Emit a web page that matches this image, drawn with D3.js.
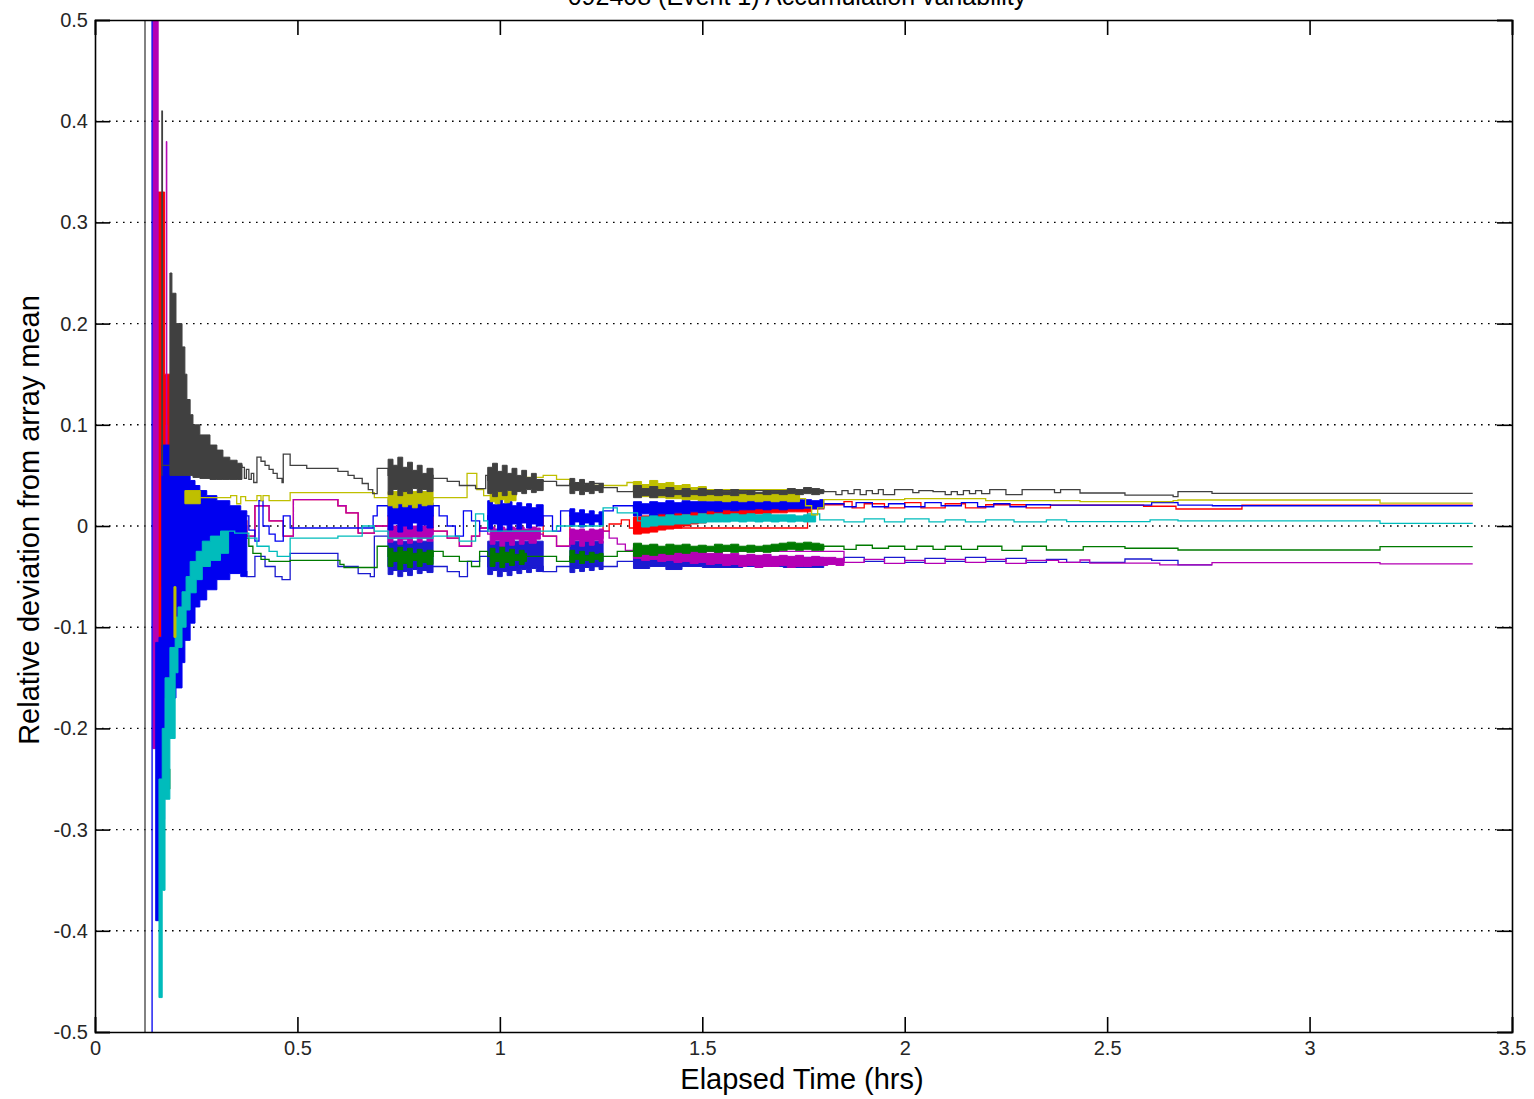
<!DOCTYPE html>
<html>
<head>
<meta charset="utf-8">
<script src="https://cdn.jsdelivr.net/npm/d3@7"></script>
<style>
  body { margin: 0; background: #fff; }
  text { font-family: "Liberation Sans", Arial, sans-serif; }
</style>
</head>
<body>
<div id="chart"></div>
<script>
// Chart text and ticks
var chartTitle = "092408 (Event 1) Accumulation variability";
var xLabel = "Elapsed Time (hrs)";
var yLabel = "Relative deviation from array mean";
var xTicks = [0, 0.5, 1, 1.5, 2, 2.5, 3, 3.5];
var yTicks = [-0.5, -0.4, -0.3, -0.2, -0.1, 0, 0.1, 0.2, 0.3, 0.4, 0.5];
var yTickLabels = ["-0.5", "-0.4", "-0.3", "-0.2", "-0.1", "0", "0.1", "0.2", "0.3", "0.4", "0.5"];

// Step series: [hours, deviation]; null breaks the line
var rSteps = [[0.360, 0.005], [0.375, -0.010], [0.395, 0.020], [0.430, 0.005], [0.465, -0.010], [0.490, 0.026], [0.600, 0.020],
  [0.620, 0.013], [0.640, 0.013], [0.650, -0.007], [0.690, 0.000], [0.724, 0.010], [0.835, -0.005], [0.870, -0.012], [0.900, -0.020],
  [0.930, -0.010], [0.950, -0.002], [0.970, 0.010], [1.107, -0.010], [1.140, -0.020], [1.173, 0.010], [1.255, -0.005], [1.270, 0.002],
  [1.300, 0.006], [1.320, -0.002], [1.760, 0.017], [1.800, 0.021], [1.850, 0.024], [1.870, 0.018], [1.900, 0.022], [1.950, 0.018],
  [2.000, 0.023], [2.040, 0.018], [2.100, 0.022], [2.150, 0.018], [2.200, 0.021], [2.300, 0.018], [2.360, 0.0207], [2.590, 0.0195],
  [2.670, 0.0168], [2.833, 0.0205], [3.403, 0.0205]];

var b2Steps = [[0.360, -0.045], [0.375, -0.050], [0.395, -0.030], [0.420, -0.040], [0.445, -0.050], [0.462, -0.053], [0.482, -0.027],
  [0.600, -0.040], [0.650, -0.047], [0.680, -0.050], [0.690, -0.010], [0.724, -0.040], [0.835, -0.040], [0.870, -0.045], [0.900, -0.050],
  [0.920, -0.035], [0.950, -0.030], [0.970, -0.040], [1.107, -0.045], [1.140, -0.040], [1.173, -0.040], [1.255, -0.040], [1.290, -0.035],
  [1.330, -0.035], [1.800, -0.034], [1.850, -0.031], [1.900, -0.035], [1.950, -0.031], [2.000, -0.036], [2.050, -0.032], [2.100, -0.035],
  [2.150, -0.031], [2.200, -0.035], [2.250, -0.032], [2.300, -0.036], [2.350, -0.033], [2.400, -0.036], [2.544, -0.0326], [2.610, -0.034],
  [2.675, -0.0385], [2.759, -0.0385]];

var mSteps = [[0.360, 0.000], [0.375, -0.010], [0.395, 0.020], [0.430, 0.005], [0.465, -0.010], [0.490, 0.026], [0.600, 0.020],
  [0.620, 0.013], [0.650, -0.007], [0.690, 0.000], [0.724, -0.008], [0.835, -0.005], [0.870, -0.012], [0.900, -0.020], [0.930, -0.010],
  [0.950, -0.002], [0.970, -0.008], [1.107, -0.010], [1.140, -0.020], [1.173, -0.012], [1.255, -0.005], [1.270, -0.012], [1.290, -0.018],
  [1.310, -0.024], [1.330, -0.025], [1.850, -0.036], [1.900, -0.033], [1.950, -0.037], [2.000, -0.034], [2.050, -0.037], [2.100, -0.033],
  [2.150, -0.036], [2.200, -0.033], [2.250, -0.037], [2.300, -0.034], [2.380, -0.036], [2.433, -0.0336], [2.457, -0.0366], [2.630, -0.0385],
  [2.759, -0.0362], [3.174, -0.0375], [3.403, -0.0375]];

var gSteps = [[0.345, -0.004], [0.370, -0.012], [0.380, -0.020], [0.390, -0.027], [0.410, -0.033], [0.430, -0.035], [0.482, -0.034],
  [0.605, -0.038], [0.615, -0.041], [0.687, -0.041], [0.697, -0.020], [0.724, -0.030], [0.835, -0.025], [0.860, -0.030], [0.900, -0.035],
  [0.930, -0.040], [0.950, -0.025], [0.970, -0.030], [1.107, -0.030], [1.140, -0.035], [1.173, -0.030], [1.255, -0.030], [1.290, -0.025],
  [1.330, -0.022], [1.800, -0.020], [1.850, -0.023], [1.880, -0.019], [1.920, -0.022], [1.960, -0.020], [2.000, -0.023], [2.030, -0.020],
  [2.070, -0.023], [2.100, -0.020], [2.140, -0.023], [2.180, -0.020], [2.240, -0.024], [2.290, -0.020], [2.350, -0.0237], [2.441, -0.0204],
  [2.544, -0.022], [2.675, -0.0237], [3.174, -0.0204], [3.403, -0.0204]];

var bSteps = [[0.141, -0.7], [0.141, 0.7], null,
  [0.375, 0.010], [0.380, -0.004], [0.395, -0.015], [0.405, 0.025], [0.415, 0.000], [0.430, -0.008], [0.445, -0.015], [0.465, 0.010],
  [0.482, -0.002], [0.687, 0.010], [0.697, 0.020], [0.724, 0.010], [0.835, 0.020], [0.850, 0.010], [0.870, 0.000], [0.890, -0.010],
  [0.910, 0.015], [0.930, 0.005], [0.950, -0.005], [0.970, 0.010], [1.107, 0.010], [1.130, -0.005], [1.150, 0.015], [1.173, 0.010],
  [1.255, 0.015], [1.280, 0.020], [1.330, 0.018], [1.800, 0.022], [1.850, 0.019], [1.880, 0.023], [1.920, 0.019], [1.960, 0.022],
  [2.000, 0.019], [2.050, 0.023], [2.090, 0.020], [2.140, 0.023], [2.180, 0.019], [2.220, 0.022], [2.260, 0.019], [2.300, 0.021],
  [2.360, 0.0207], [2.610, 0.023], [2.675, 0.0207], [2.760, 0.020], [3.403, 0.020]];

var cSteps = [[0.330, -0.005], [0.345, -0.007], [0.380, -0.012], [0.400, -0.020], [0.430, -0.025], [0.450, -0.030], [0.482, -0.012],
  [0.600, -0.010], [0.660, 0.000], [0.690, -0.005], [0.724, -0.012], [0.835, -0.010], [0.900, -0.015], [0.940, 0.012], [0.960, 0.005],
  [0.970, -0.005], [1.107, -0.005], [1.140, 0.000], [1.173, 0.000], [1.255, 0.018], [1.290, 0.013], [1.340, 0.005], [1.760, 0.012],
  [1.790, 0.006], [1.850, 0.004], [1.900, 0.007], [1.950, 0.004], [2.000, 0.007], [2.060, 0.004], [2.100, 0.006], [2.150, 0.004],
  [2.200, 0.006], [2.270, 0.004], [2.350, 0.006], [2.400, 0.0043], [2.606, 0.006], [2.675, 0.005], [3.174, 0.0026], [3.403, 0.0026]];

var ySteps = [[0.260, 0.028], [0.335, 0.030], [0.350, 0.022], [0.360, 0.029], [0.372, 0.025], [0.400, 0.030], [0.410, 0.025],
  [0.415, 0.030], [0.430, 0.025], [0.482, 0.033], [0.690, 0.028], [0.724, 0.026], [0.835, 0.028], [0.919, 0.052], [0.943, 0.036],
  [0.960, 0.030], [1.040, 0.048], [1.107, 0.050], [1.140, 0.046], [1.173, 0.040], [1.314, 0.043], [1.330, 0.036], [1.740, 0.027],
  [1.755, 0.020], [1.770, 0.011], [1.785, 0.018], [1.800, 0.026], [2.000, 0.027], [2.200, 0.025], [2.433, 0.024], [2.663, 0.025],
  [2.675, 0.0257], [3.174, 0.0227], [3.403, 0.0227]];

var kSteps = [[0.1235, 0.7], [0.1235, -0.7], null,
  [0.165, 0.050], [0.1652, 0.410], [0.1665, 0.060], [0.363, 0.058], [0.369, 0.047], [0.374, 0.056], [0.380, 0.046], [0.386, 0.052],
  [0.392, 0.043], [0.400, 0.068], [0.410, 0.064], [0.420, 0.060], [0.430, 0.056], [0.440, 0.052], [0.450, 0.047], [0.462, 0.043],
  [0.465, 0.071], [0.482, 0.060], [0.523, 0.057], [0.600, 0.054], [0.625, 0.050], [0.640, 0.047], [0.660, 0.042], [0.675, 0.036],
  [0.686, 0.032], [0.697, 0.057], [0.724, 0.050], [0.835, 0.047], [0.870, 0.044], [0.900, 0.040], [0.940, 0.037], [0.965, 0.050],
  [0.970, 0.045], [1.107, 0.044], [1.140, 0.040], [1.173, 0.042], [1.255, 0.038], [1.290, 0.034], [1.330, 0.035], [1.800, 0.034],
  [1.830, 0.031], [1.845, 0.035], [1.860, 0.032], [1.875, 0.036], [1.890, 0.031], [1.905, 0.035], [1.920, 0.032], [1.935, 0.036],
  [1.947, 0.031], [1.975, 0.036], [2.020, 0.033], [2.035, 0.035], [2.070, 0.034], [2.100, 0.031], [2.115, 0.034], [2.130, 0.031],
  [2.145, 0.035], [2.160, 0.032], [2.175, 0.035], [2.190, 0.032], [2.210, 0.036], [2.250, 0.031], [2.290, 0.036], [2.370, 0.033],
  [2.385, 0.036], [2.433, 0.0326], [2.544, 0.0306], [2.663, 0.029], [2.675, 0.034], [2.759, 0.0323], [3.403, 0.0323]];

// Dense oscillation envelopes: [hours, low, high]; null separates bursts
var rBands = [[0.150, -0.110, 0.330], [0.165, -0.060, 0.330], [0.172, -0.030, 0.150], [0.190, -0.010, 0.060], [0.205, 0.000, 0.040],
  [0.230, 0.000, 0.030], [0.250, 0.000, 0.030], null,
  [1.33, -0.008, 0.009], [1.35, -0.007, 0.010], [1.37, -0.006, 0.011], [1.39, -0.004, 0.012], [1.41, -0.003, 0.012], [1.43, -0.002, 0.013],
  [1.45, 0.000, 0.013], [1.47, 0.002, 0.014], [1.49, 0.003, 0.014], [1.51, 0.005, 0.015], [1.53, 0.006, 0.015], [1.55, 0.008, 0.016],
  [1.57, 0.009, 0.016], [1.59, 0.010, 0.016], [1.61, 0.011, 0.017], [1.63, 0.012, 0.017], [1.65, 0.012, 0.017], [1.67, 0.013, 0.018],
  [1.69, 0.013, 0.018], [1.71, 0.014, 0.018], [1.73, 0.014, 0.018], [1.75, 0.014, 0.018], [1.77, 0.014, 0.018]];

var b2Bands = [[0.158, -0.386, -0.330], [0.163, -0.386, -0.330], null,
  [0.724, -0.048, -0.015], [0.736, -0.044, -0.015], [0.748, -0.050, -0.015], [0.760, -0.045, -0.015], [0.772, -0.049, -0.015],
  [0.784, -0.043, -0.015], [0.796, -0.047, -0.015], [0.808, -0.044, -0.015], [0.820, -0.046, -0.015], [0.835, -0.046, -0.015], null,
  [0.970, -0.048, -0.015], [0.982, -0.044, -0.015], [0.994, -0.050, -0.015], [1.006, -0.045, -0.015], [1.018, -0.049, -0.015],
  [1.030, -0.044, -0.015], [1.042, -0.047, -0.015], [1.054, -0.043, -0.015], [1.066, -0.046, -0.015], [1.078, -0.042, -0.015],
  [1.090, -0.045, -0.015], [1.107, -0.045, -0.015], null,
  [1.173, -0.046, -0.015], [1.185, -0.042, -0.015], [1.197, -0.045, -0.015], [1.209, -0.041, -0.015], [1.221, -0.044, -0.015],
  [1.233, -0.040, -0.015], [1.245, -0.043, -0.015], [1.255, -0.043, -0.015], null,
  [1.33, -0.042, -0.028], [1.37, -0.040, -0.030], [1.41, -0.043, -0.030], [1.45, -0.040, -0.031], [1.50, -0.041, -0.031],
  [1.60, -0.040, -0.031], [1.70, -0.041, -0.031], [1.80, -0.038, -0.031]];

var mBands = [[0.143, -0.220, 0.600], [0.156, -0.200, -0.110], [0.165, -0.150, -0.090], [0.176, 0.100, 0.380], [0.1775, -0.060, 0.050],
  [0.190, -0.040, 0.045], [0.210, -0.030, 0.040], [0.230, -0.025, 0.010], [0.260, -0.020, 0.005], [0.300, -0.020, 0.000],
  [0.360, -0.020, 0.000], null,
  [0.724, -0.016, -0.002], [0.736, -0.012, 0.000], [0.748, -0.018, -0.002], [0.760, -0.013, 0.000], [0.772, -0.017, -0.002],
  [0.784, -0.011, 0.000], [0.796, -0.016, -0.002], [0.808, -0.012, 0.000], [0.820, -0.015, -0.001], [0.835, -0.015, -0.001], null,
  [0.976, -0.018, -0.001], [0.988, -0.014, -0.003], [1.000, -0.020, -0.001], [1.012, -0.015, -0.003], [1.024, -0.019, -0.001],
  [1.036, -0.013, -0.002], [1.048, -0.018, -0.001], [1.060, -0.014, -0.003], [1.072, -0.017, -0.001], [1.090, -0.013, -0.002],
  [1.100, -0.013, -0.002], null,
  [1.173, -0.018, -0.003], [1.185, -0.014, -0.004], [1.197, -0.020, -0.003], [1.209, -0.015, -0.005], [1.221, -0.019, -0.003],
  [1.233, -0.014, -0.004], [1.245, -0.017, -0.003], [1.255, -0.017, -0.003], null,
  [1.33, -0.032, -0.018], [1.35, -0.034, -0.020], [1.37, -0.033, -0.019], [1.39, -0.035, -0.022], [1.41, -0.034, -0.021],
  [1.43, -0.036, -0.024], [1.45, -0.035, -0.023], [1.47, -0.037, -0.025], [1.49, -0.036, -0.024], [1.51, -0.038, -0.027],
  [1.53, -0.037, -0.026], [1.55, -0.039, -0.028], [1.57, -0.038, -0.027], [1.59, -0.040, -0.029], [1.61, -0.039, -0.028],
  [1.63, -0.041, -0.029], [1.65, -0.040, -0.028], [1.67, -0.040, -0.030], [1.69, -0.039, -0.029], [1.71, -0.041, -0.030],
  [1.73, -0.040, -0.029], [1.75, -0.040, -0.031], [1.77, -0.039, -0.030], [1.79, -0.039, -0.031], [1.81, -0.038, -0.031],
  [1.83, -0.039, -0.032], [1.85, -0.039, -0.032]];

var gBands = [[0.170, -0.260, -0.240], [0.185, -0.260, -0.240], null,
  [0.259, -0.042, -0.030], [0.300, -0.040, -0.025], [0.333, -0.038, -0.020], [0.345, -0.038, -0.020], null,
  [0.724, -0.040, -0.022], [0.736, -0.035, -0.026], [0.748, -0.043, -0.021], [0.760, -0.037, -0.025], [0.772, -0.041, -0.022],
  [0.784, -0.034, -0.027], [0.796, -0.040, -0.023], [0.808, -0.036, -0.026], [0.820, -0.038, -0.024], [0.835, -0.038, -0.024], null,
  [0.976, -0.040, -0.022], [0.988, -0.035, -0.027], [1.000, -0.041, -0.021], [1.012, -0.036, -0.026], [1.024, -0.039, -0.023],
  [1.036, -0.034, -0.028], [1.048, -0.038, -0.024], [1.060, -0.035, -0.027], [1.066, -0.035, -0.027], null,
  [1.173, -0.036, -0.024], [1.185, -0.033, -0.028], [1.197, -0.037, -0.025], [1.209, -0.034, -0.029], [1.221, -0.036, -0.026],
  [1.233, -0.033, -0.028], [1.245, -0.035, -0.027], [1.255, -0.035, -0.027], null,
  [1.33, -0.030, -0.017], [1.35, -0.028, -0.019], [1.37, -0.029, -0.018], [1.39, -0.027, -0.020], [1.41, -0.028, -0.018],
  [1.43, -0.026, -0.019], [1.45, -0.027, -0.018], [1.47, -0.025, -0.020], [1.49, -0.026, -0.019], [1.51, -0.025, -0.020],
  [1.53, -0.026, -0.018], [1.55, -0.025, -0.019], [1.57, -0.026, -0.018], [1.59, -0.025, -0.020], [1.61, -0.026, -0.019],
  [1.63, -0.025, -0.020], [1.65, -0.026, -0.019], [1.67, -0.025, -0.018], [1.69, -0.024, -0.017], [1.71, -0.023, -0.016],
  [1.73, -0.024, -0.017], [1.75, -0.023, -0.016], [1.77, -0.024, -0.017], [1.79, -0.024, -0.018], [1.80, -0.024, -0.018]];

var bBands = [[0.150, -0.390, -0.115], [0.158, -0.330, -0.110], [0.165, -0.290, 0.080], [0.172, -0.170, 0.080], [0.200, -0.160, 0.075],
  [0.215, -0.135, 0.060], [0.222, -0.113, 0.050], [0.235, -0.096, 0.045], [0.247, -0.080, 0.040], [0.259, -0.073, 0.035],
  [0.276, -0.063, 0.030], [0.301, -0.053, 0.025], [0.333, -0.047, 0.020], [0.360, -0.050, 0.015], [0.375, -0.050, 0.015], null,
  [0.724, -0.004, 0.026], [0.736, 0.002, 0.022], [0.748, -0.006, 0.025], [0.760, 0.000, 0.021], [0.772, -0.003, 0.024],
  [0.784, 0.003, 0.020], [0.796, -0.005, 0.025], [0.808, 0.001, 0.022], [0.820, -0.002, 0.023], [0.835, -0.002, 0.023], null,
  [0.970, -0.003, 0.025], [0.982, 0.002, 0.021], [0.994, -0.005, 0.026], [1.006, 0.001, 0.022], [1.018, -0.004, 0.024],
  [1.030, 0.002, 0.020], [1.042, -0.003, 0.023], [1.054, 0.003, 0.019], [1.066, -0.002, 0.022], [1.078, 0.002, 0.018],
  [1.090, 0.000, 0.021], [1.107, 0.000, 0.021], null,
  [1.173, 0.000, 0.017], [1.185, 0.004, 0.013], [1.197, -0.001, 0.016], [1.209, 0.003, 0.012], [1.221, 0.000, 0.015],
  [1.233, 0.004, 0.011], [1.245, 0.001, 0.014], [1.255, 0.001, 0.014], null,
  [1.33, 0.010, 0.024], [1.35, 0.012, 0.022], [1.37, 0.009, 0.024], [1.39, 0.012, 0.023], [1.41, 0.011, 0.025], [1.43, 0.013, 0.023],
  [1.45, 0.012, 0.025], [1.47, 0.014, 0.024], [1.49, 0.013, 0.025], [1.51, 0.015, 0.024], [1.53, 0.014, 0.025], [1.55, 0.016, 0.024],
  [1.57, 0.015, 0.025], [1.59, 0.016, 0.025], [1.61, 0.016, 0.026], [1.63, 0.017, 0.025], [1.65, 0.016, 0.026], [1.67, 0.017, 0.025],
  [1.69, 0.016, 0.026], [1.71, 0.017, 0.025], [1.73, 0.017, 0.026], [1.75, 0.018, 0.026], [1.77, 0.017, 0.025], [1.79, 0.018, 0.026],
  [1.80, 0.018, 0.026]];

var cBands = [[0.158, -0.466, -0.250], [0.166, -0.360, -0.200], [0.173, -0.270, -0.150], [0.185, -0.210, -0.120],
  [0.198, -0.145, -0.090], [0.205, -0.120, -0.080], [0.215, -0.100, -0.065], [0.225, -0.083, -0.050], [0.235, -0.066, -0.035],
  [0.250, -0.053, -0.025], [0.265, -0.040, -0.015], [0.285, -0.034, -0.010], [0.310, -0.027, -0.005], [0.330, -0.027, -0.005], null,
  [1.35, -0.001, 0.009], [1.37, 0.000, 0.010], [1.39, 0.001, 0.009], [1.41, 0.001, 0.011], [1.43, 0.002, 0.010], [1.45, 0.002, 0.011],
  [1.47, 0.003, 0.010], [1.49, 0.003, 0.012], [1.51, 0.004, 0.011], [1.53, 0.004, 0.012], [1.55, 0.004, 0.011], [1.57, 0.005, 0.012],
  [1.59, 0.004, 0.011], [1.61, 0.005, 0.012], [1.63, 0.004, 0.011], [1.65, 0.005, 0.012], [1.67, 0.004, 0.011], [1.69, 0.005, 0.011],
  [1.71, 0.004, 0.011], [1.73, 0.005, 0.010], [1.75, 0.004, 0.011], [1.78, 0.004, 0.011]];

var yBands = [[0.195, -0.110, -0.060], [0.200, -0.110, -0.060], null,
  [0.222, 0.022, 0.035], [0.260, 0.022, 0.035], null,
  [0.724, 0.020, 0.034], [0.736, 0.018, 0.034], [0.748, 0.022, 0.034], [0.760, 0.019, 0.034], [0.772, 0.021, 0.034],
  [0.784, 0.018, 0.034], [0.796, 0.022, 0.034], [0.808, 0.020, 0.034], [0.820, 0.021, 0.034], [0.835, 0.021, 0.034], null,
  [0.976, 0.024, 0.034], [0.988, 0.022, 0.034], [1.000, 0.026, 0.034], [1.012, 0.023, 0.034], [1.024, 0.025, 0.034],
  [1.040, 0.025, 0.034], null,
  [1.33, 0.030, 0.044], [1.35, 0.029, 0.041], [1.37, 0.028, 0.045], [1.39, 0.028, 0.042], [1.41, 0.027, 0.043], [1.43, 0.027, 0.040],
  [1.45, 0.026, 0.041], [1.47, 0.026, 0.038], [1.49, 0.025, 0.039], [1.51, 0.025, 0.036], [1.53, 0.025, 0.035], [1.55, 0.024, 0.033],
  [1.57, 0.025, 0.032], [1.59, 0.024, 0.032], [1.61, 0.025, 0.032], [1.63, 0.024, 0.032], [1.65, 0.025, 0.032], [1.67, 0.024, 0.032],
  [1.69, 0.025, 0.032], [1.71, 0.024, 0.032], [1.74, 0.024, 0.032]];

var kBands = [[0.185, 0.050, 0.250], [0.190, 0.050, 0.230], [0.200, 0.050, 0.200], [0.215, 0.050, 0.177], [0.222, 0.050, 0.150],
  [0.227, 0.050, 0.125], [0.235, 0.050, 0.110], [0.242, 0.048, 0.100], [0.259, 0.047, 0.090], [0.284, 0.046, 0.080],
  [0.301, 0.046, 0.075], [0.316, 0.046, 0.068], [0.333, 0.046, 0.065], [0.351, 0.046, 0.062], [0.363, 0.046, 0.062], null,
  [0.724, 0.031, 0.066], [0.736, 0.036, 0.060], [0.748, 0.030, 0.068], [0.760, 0.034, 0.058], [0.772, 0.032, 0.063],
  [0.784, 0.037, 0.055], [0.796, 0.033, 0.060], [0.808, 0.036, 0.052], [0.820, 0.034, 0.057], [0.835, 0.034, 0.057], null,
  [0.970, 0.032, 0.058], [0.982, 0.029, 0.062], [0.994, 0.034, 0.054], [1.006, 0.030, 0.060], [1.018, 0.035, 0.052],
  [1.030, 0.031, 0.057], [1.042, 0.034, 0.050], [1.054, 0.032, 0.055], [1.066, 0.036, 0.048], [1.078, 0.033, 0.052],
  [1.090, 0.035, 0.046], [1.107, 0.035, 0.046], null,
  [1.173, 0.032, 0.047], [1.185, 0.035, 0.043], [1.197, 0.031, 0.046], [1.209, 0.034, 0.041], [1.221, 0.032, 0.044],
  [1.233, 0.035, 0.040], [1.245, 0.033, 0.042], [1.255, 0.033, 0.042], null,
  [1.33, 0.028, 0.040], [1.35, 0.030, 0.037], [1.37, 0.028, 0.039], [1.39, 0.030, 0.036], [1.41, 0.029, 0.038], [1.43, 0.031, 0.035],
  [1.45, 0.029, 0.037], [1.47, 0.031, 0.035], [1.49, 0.030, 0.037], [1.51, 0.031, 0.034], [1.53, 0.030, 0.036], [1.55, 0.031, 0.034],
  [1.57, 0.030, 0.036], [1.59, 0.032, 0.034], [1.61, 0.031, 0.035], [1.63, 0.032, 0.033], [1.65, 0.031, 0.035], [1.67, 0.032, 0.034],
  [1.69, 0.031, 0.035], [1.71, 0.032, 0.037], [1.73, 0.031, 0.036], [1.75, 0.032, 0.038], [1.77, 0.031, 0.037], [1.79, 0.032, 0.036],
  [1.80, 0.032, 0.036]];

// Define chart size and margins
var svgWidth = 1534;
var svgHeight = 1099;

var margin = {
  top: 20,
  right: 22,
  bottom: 67,
  left: 95
};

var width = svgWidth - margin.left - margin.right;
var height = svgHeight - margin.top - margin.bottom;

var svg = d3.select("#chart")
  .append("svg")
  .attr("width", svgWidth)
  .attr("height", svgHeight);

var chartGroup = svg.append("g")
  .attr("transform", `translate(${margin.left}, ${margin.top})`);

var xScale = d3.scaleLinear().domain([0, 3.5]).range([0, width]);
var yScale = d3.scaleLinear().domain([-0.5, 0.5]).range([height, 0]);

// clip everything to the axes box
svg.append("defs").append("clipPath")
  .attr("id", "plotClip")
  .append("rect")
  .attr("width", width)
  .attr("height", height);

// dotted horizontal grid
chartGroup.append("g")
  .selectAll("line")
  .data(yTicks.slice(1, -1))
  .enter()
  .append("line")
  .attr("x1", 0)
  .attr("x2", width)
  .attr("y1", d => yScale(d))
  .attr("y2", d => yScale(d))
  .attr("stroke", "#000")
  .attr("stroke-width", 1.4)
  .attr("stroke-dasharray", "1.6,5.4");

var stepLine = d3.line()
  .defined(d => d !== null)
  .x(d => xScale(d[0]))
  .y(d => yScale(d[1]))
  .curve(d3.curveStepAfter);

var stepBand = d3.area()
  .defined(d => d !== null)
  .x(d => xScale(d[0]))
  .y0(d => yScale(d[1]))
  .y1(d => yScale(d[2]))
  .curve(d3.curveStepAfter);

// plotting order, later series sit on top
var seriesList = [
  { steps: rSteps, bands: rBands, color: "#ff0000" },
  { steps: b2Steps, bands: b2Bands, color: "#1a1ad0" },
  { steps: mSteps, bands: mBands, color: "#b400b4" },
  { steps: gSteps, bands: gBands, color: "#007a00" },
  { steps: bSteps, bands: bBands, color: "#0000f0" },
  { steps: cSteps, bands: cBands, color: "#00bcbc" },
  { steps: ySteps, bands: yBands, color: "#bfbf00" },
  { steps: kSteps, bands: kBands, color: "#404040" }
];

var plotGroup = chartGroup.append("g")
  .attr("clip-path", "url(#plotClip)");

seriesList.forEach(function (s) {
  plotGroup.append("path")
    .attr("d", stepBand(s.bands))
    .attr("fill", s.color)
    .attr("stroke", s.color)
    .attr("stroke-width", 1);

  plotGroup.append("path")
    .attr("d", stepLine(s.steps))
    .attr("fill", "none")
    .attr("stroke", s.color)
    .attr("stroke-width", 1.3);
});

// axes, ticks inward like the original
var bottomAxis = d3.axisBottom(xScale)
  .tickValues(xTicks)
  .tickSize(-15)
  .tickPadding(9)
  .tickFormat(d3.format("~g"));

var topAxis = d3.axisTop(xScale)
  .tickValues(xTicks)
  .tickSize(-15)
  .tickFormat("");

var leftAxis = d3.axisLeft(yScale)
  .tickValues(yTicks)
  .tickSize(-15)
  .tickPadding(7)
  .tickFormat((d, i) => yTickLabels[i]);

var rightAxis = d3.axisRight(yScale)
  .tickValues(yTicks)
  .tickSize(-15)
  .tickFormat("");

chartGroup.append("g")
  .attr("class", "axis")
  .attr("transform", `translate(0, ${height})`)
  .call(bottomAxis);

chartGroup.append("g")
  .attr("class", "axis")
  .call(topAxis);

chartGroup.append("g")
  .attr("class", "axis")
  .call(leftAxis);

chartGroup.append("g")
  .attr("class", "axis")
  .attr("transform", `translate(${width}, 0)`)
  .call(rightAxis);

chartGroup.selectAll(".axis path.domain")
  .attr("stroke", "#000")
  .attr("stroke-width", 1.6);

chartGroup.selectAll(".axis .tick line")
  .attr("stroke", "#000")
  .attr("stroke-width", 1.6);

chartGroup.selectAll(".axis text")
  .attr("fill", "#262626")
  .style("font-size", "20px");

// title, cut off by the top edge as in the original
svg.append("text")
  .attr("x", 797)
  .attr("y", 5)
  .attr("text-anchor", "middle")
  .style("font-size", "25px")
  .attr("fill", "#000")
  .text(chartTitle);

// axis labels
svg.append("text")
  .attr("x", 802)
  .attr("y", 1089)
  .attr("text-anchor", "middle")
  .style("font-size", "29px")
  .attr("fill", "#000")
  .text(xLabel);

svg.append("text")
  .attr("transform", "rotate(-90)")
  .attr("x", -520)
  .attr("y", 39)
  .attr("text-anchor", "middle")
  .style("font-size", "29px")
  .attr("fill", "#000")
  .text(yLabel);
</script>
</body>
</html>
